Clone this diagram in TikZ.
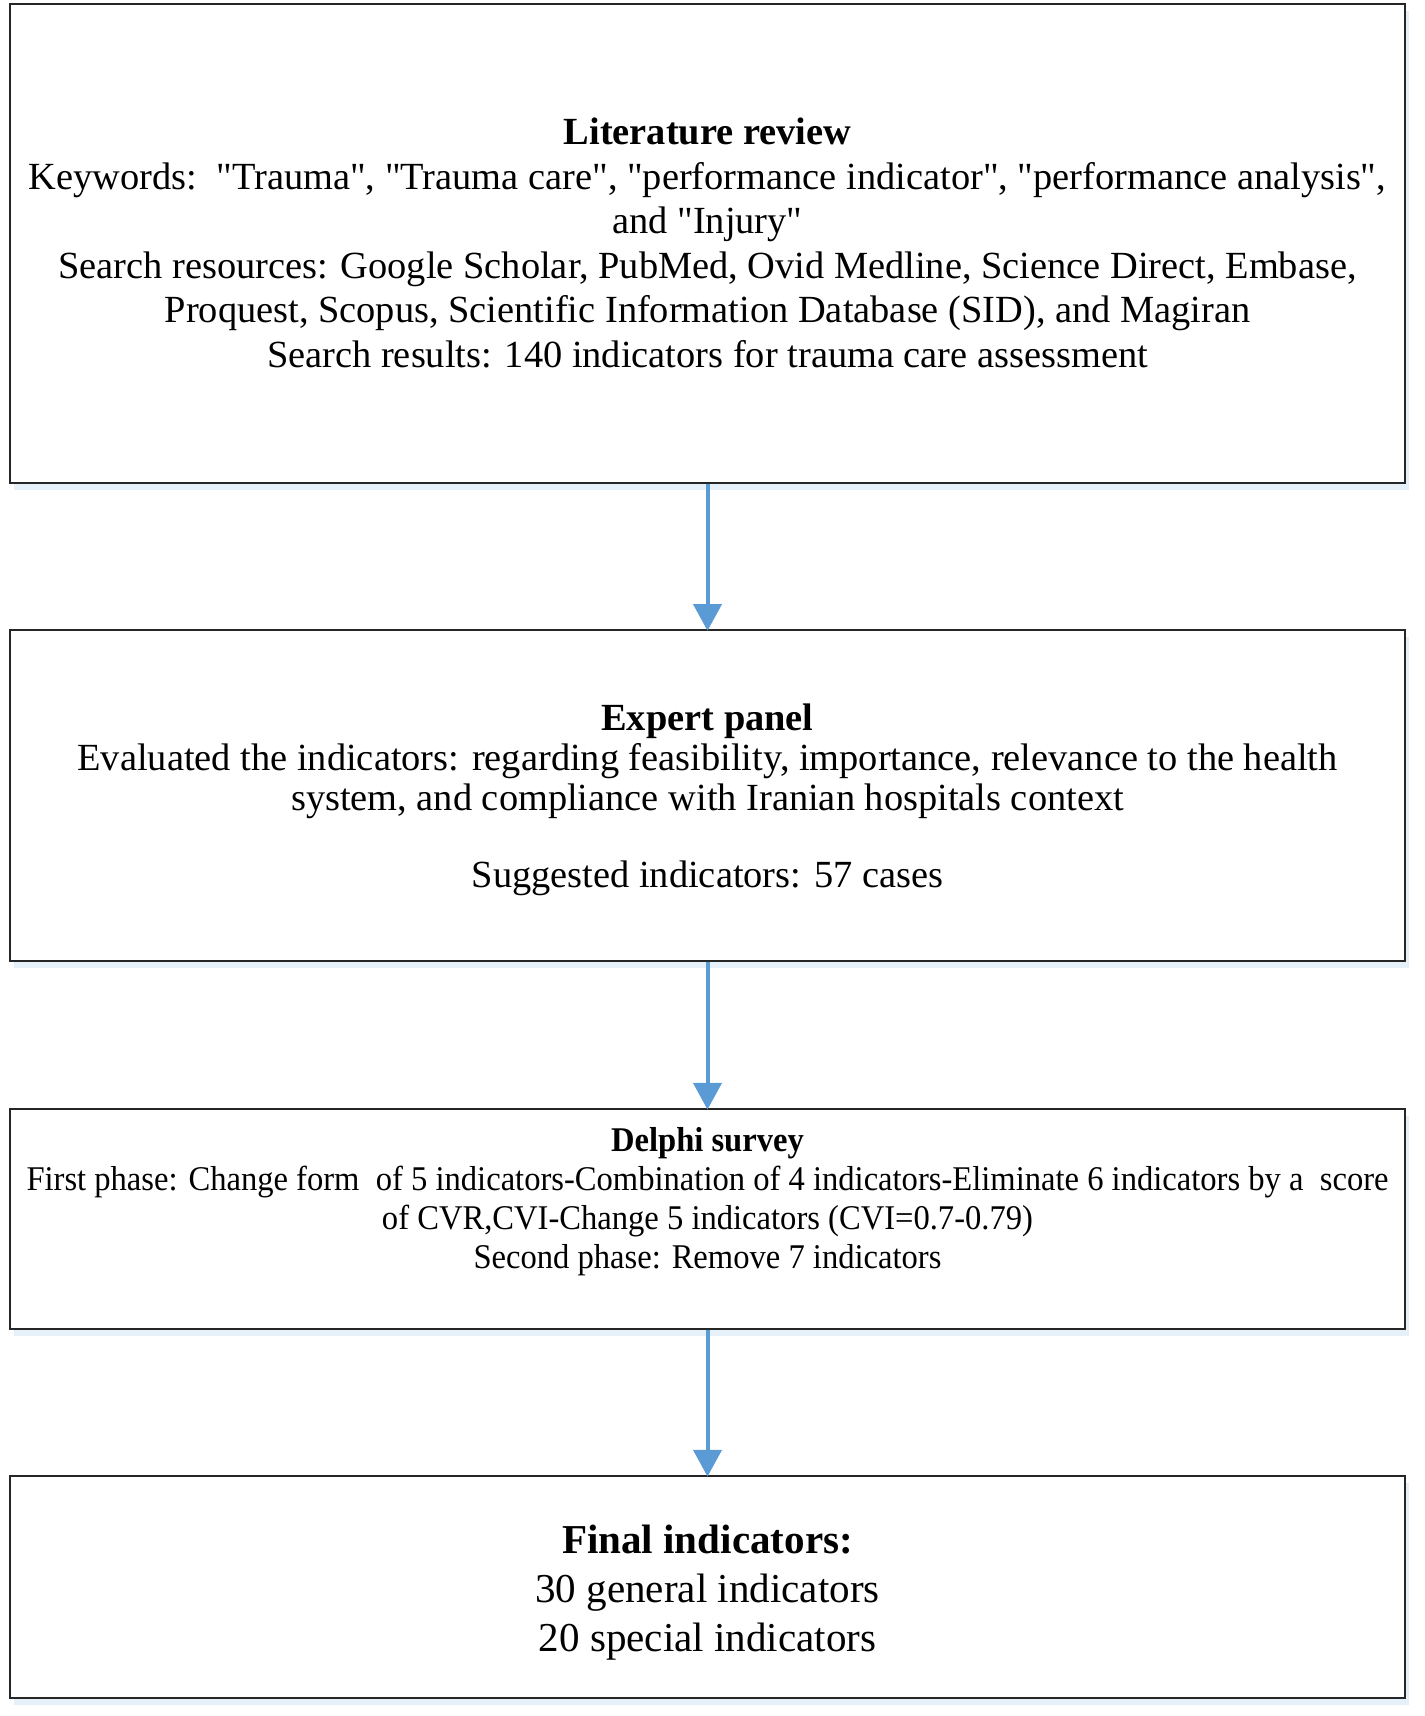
\documentclass[tikz,border=0pt]{standalone}
\usepackage{fontspec}
\setmainfont{Liberation Serif}
\newfontfamily\narrowfont[FakeStretch=0.94]{Liberation Serif}
\usetikzlibrary{shadows,arrows.meta}

\definecolor{flowblue}{HTML}{5B9BD5}
\newcommand{\qt}{\textquotedbl}

\tikzset{
  stagebox/.style={draw=black!85, line width=1.1pt, fill=white, minimum width=1046pt, inner sep=0pt,
    drop shadow={shadow xshift=3pt, shadow yshift=-5pt, fill=flowblue!30, opacity=.5}},
  stagetext/.style={align=center, inner sep=0pt},
  flow/.style={draw=flowblue, line width=3pt, -{Triangle[width=21pt,length=20pt]}, shorten >=-1pt},
}

\begin{document}
\begin{tikzpicture}[x=0.75pt, y=-0.75pt]
\useasboundingbox (0,0) rectangle (1424,1716);

% stages
\node [stagebox, minimum height=359pt] (review) at (707.5,243.5) {};
\node [stagebox, minimum height=248pt] (panel) at (707.5,795.5) {};
\node [stagebox, minimum height=165pt] (delphi) at (707.5,1219) {};
\node [stagebox, minimum height=166.5pt] (final) at (707.5,1587) {};

% texts
\node [stagetext, font=\fontsize{28.8}{33.4}\selectfont] (reviewtext) at (707.5,243) {\textbf{Literature review}\\
Keywords:\ \ \qt Trauma\qt, \qt Trauma care\qt, \qt performance indicator\qt, \qt performance analysis\qt,\\
and \qt Injury\qt\\
Search resources: Google Scholar, PubMed, Ovid Medline, Science Direct, Embase,\\
Proquest, Scopus, Scientific Information Database (SID), and Magiran\\
Search results: 140 indicators for trauma care assessment};

\node [stagetext, font=\fontsize{28.8}{30}\selectfont] (paneltext) at (707.5,799.5) {\textbf{Expert panel}\\
Evaluated the indicators: regarding feasibility, importance, relevance to the health\\
system, and compliance with Iranian hospitals context\\[28pt]
Suggested indicators: 57 cases};

\node [stagetext, font=\narrowfont\fontsize{26}{29.3}\selectfont] (delphitext) at (707.5,1202) {\textbf{Delphi survey}\\
First phase: Change form\ \ of 5 indicators-Combination of 4 indicators-Eliminate 6 indicators by a\ \ score\\
of CVR,CVI-Change 5 indicators (CVI=0.7-0.79)\\
Second phase: Remove 7 indicators};

\node [stagetext, font=\fontsize{30.8}{36.7}\selectfont] (finaltext) at (707.5,1593) {\textbf{Final indicators:}\\
30 general indicators\\
20 special indicators};

% arrows
\draw [flow] (review) -- (panel);
\draw [flow] (panel) -- (delphi);
\draw [flow] (delphi) -- (final);
\end{tikzpicture}
\end{document}
